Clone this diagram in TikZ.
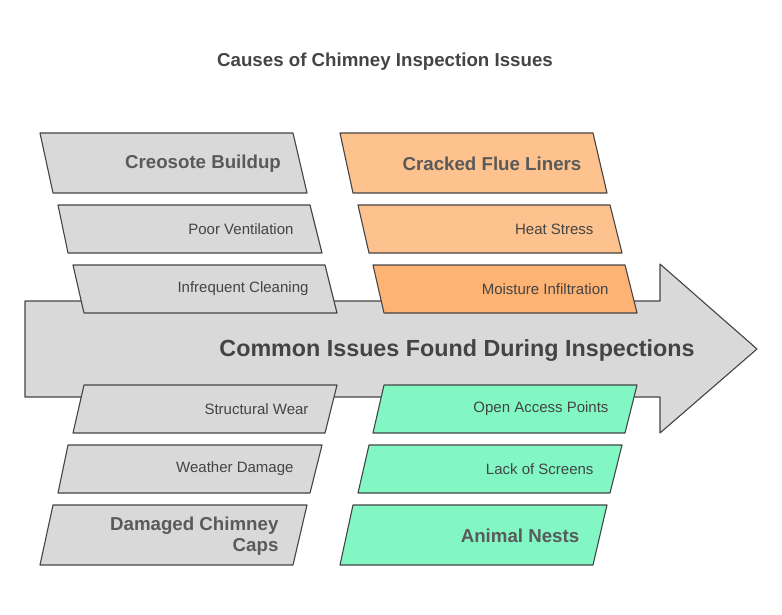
\documentclass[tikz,border=0pt]{standalone}
\usepackage{fontspec}
\setmainfont{Liberation Sans}
\definecolor{boxgray}{HTML}{D9D9D9}
\definecolor{linegray}{HTML}{444444}
\definecolor{textgray}{HTML}{5A5A5A}
\definecolor{orangea}{HTML}{FDC28D}
\definecolor{orangeb}{HTML}{FDB374}
\definecolor{greena}{HTML}{82F7C4}
% slanted box: top-left, top-right, bottom-left, bottom-right x, top y, bottom y, fill
\newcommand{\slantbox}[7]{%
  \draw[boxline, fill=#7] (#1,#5) -- (#2,#5) -- (#4,#6) -- (#3,#6) -- cycle;}
\begin{document}
\begin{tikzpicture}[x=1pt, y=-1pt,
boxline/.style={draw=linegray, line width=1.1pt, line join=round},
head/.style={text=textgray, font=\fontsize{18.7}{21}\selectfont\bfseries, align=center},
cause/.style={text=linegray, font=\fontsize{15}{17}\selectfont, anchor=east}
]
\useasboundingbox (0,0) rectangle (782,614);
\node[font=\fontsize{18.7}{21}\selectfont\bfseries, text=linegray] (title) at (385,62) {Causes of Chimney Inspection Issues};

% spine arrow
\draw[boxline, fill=boxgray] (25,301) -- (660,301) -- (660,264) -- (757,349) -- (660,433) -- (660,397) -- (25,397) -- cycle;
\node[font=\fontsize{23.3}{27}\selectfont\bfseries, text=linegray] (spine) at (457,351) {Common Issues Found During Inspections};

% upper left
\slantbox{40}{293}{53}{307}{133}{193}{boxgray}
\slantbox{58}{310}{68}{322}{205}{253}{boxgray}
\slantbox{73}{325}{84}{337}{265}{313}{boxgray}
% upper right
\slantbox{340}{593}{353}{607}{133}{193}{orangea}
\slantbox{358}{610}{369}{622}{205}{253}{orangea}
\slantbox{373}{625}{384}{637}{265}{313}{orangeb}
% lower left
\slantbox{84}{337}{73}{325}{385}{433}{boxgray}
\slantbox{68}{322}{58}{310}{445}{493}{boxgray}
\slantbox{53}{307}{40}{293}{505}{565}{boxgray}
% lower right
\slantbox{384}{637}{373}{625}{385}{433}{greena}
\slantbox{369}{622}{358}{610}{445}{493}{greena}
\slantbox{353}{607}{340}{593}{505}{565}{greena}

\node[head] (creosote) at (203,164) {Creosote Buildup};
\node[cause] (vent) at (297,229) {Poor Ventilation};
\node[cause] (clean) at (312,289) {Infrequent Cleaning};
\node[head] (flue) at (492,164) {Cracked Flue Liners};
\node[cause] (heat) at (597,229) {Heat Stress};
\node[cause] (moist) at (612,289) {Moisture Infiltration};
\node[cause] (wear) at (312,409) {Structural Wear};
\node[cause] (weather) at (297,469) {Weather Damage};
\node[head, align=right, anchor=east] (caps) at (282,536) {Damaged Chimney\\Caps};
\node[cause] (access) at (612,409) {Open Access Points};
\node[cause] (screens) at (597,469) {Lack of Screens};
\node[head] (nests) at (520,536) {Animal Nests};
\end{tikzpicture}
\end{document}
